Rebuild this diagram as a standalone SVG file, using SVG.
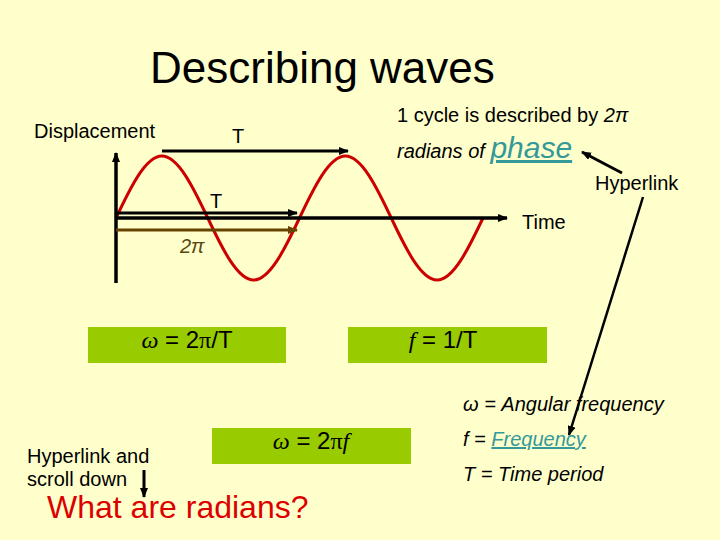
<svg xmlns="http://www.w3.org/2000/svg" width="720" height="540" viewBox="0 0 720 540">
<style>
text{font-family:"Liberation Sans",Arial,sans-serif;fill:#000}
.lbl{font-size:20px}
.it{font-style:italic}
.link{fill:#339999;text-decoration:underline}
.box{fill:#99CC00}
.eq{font-size:24px}
.ser{font-family:"Liberation Serif","Times New Roman",serif;font-style:italic}
.ax{stroke:#000;stroke-width:3.5;fill:none}
.ar{stroke:#000;stroke-width:3;fill:none}
</style>
<defs>
<marker id="ah" markerWidth="10" markerHeight="8" refX="9" refY="4" orient="auto" markerUnits="userSpaceOnUse"><path d="M0,0 L10,4 L0,8 Z" fill="#000"/></marker>
<marker id="ahb" markerWidth="10" markerHeight="8" refX="9" refY="4" orient="auto" markerUnits="userSpaceOnUse"><path d="M0,0 L10,4 L0,8 Z" fill="#664400"/></marker>
</defs>
<rect width="720" height="540" fill="#FFFFCC"/>
<g id="title"><text x="150" y="83" font-size="44">Describing waves</text></g>
<g id="wave"><path d="M116,218 C130.96,186.24 145.98,156 161.875,156 S192.79,186.24 207.75,218 S237.73,280 253.625,280 S284.54,249.76 299.5,218 S329.48,156 345.375,156 S376.29,186.24 391.25,218 S421.23,280 437.125,280 S468.04,249.76 483,218" fill="none" stroke="#CC0000" stroke-width="3"/></g>
<g id="connectors">
<line class="ax" x1="116" y1="283" x2="116" y2="153" marker-end="url(#ah)"/>
<line class="ax" x1="116" y1="218" x2="507" y2="218" marker-end="url(#ah)"/>
<line class="ar" x1="162" y1="151" x2="348" y2="151" marker-end="url(#ah)"/>
<line class="ar" x1="116" y1="213" x2="297" y2="213" marker-end="url(#ah)"/>
<line x1="116" y1="230" x2="297" y2="230" stroke="#664400" stroke-width="3" marker-end="url(#ahb)"/>
<line class="ar" x1="622" y1="173" x2="582" y2="152" marker-end="url(#ah)"/>
<line x1="643" y1="197" x2="569" y2="435" stroke="#000" stroke-width="2.5" marker-end="url(#ah)"/>
<line class="ar" x1="144" y1="470" x2="144" y2="497" marker-end="url(#ah)"/>
</g>
<g id="displacement"><text class="lbl" x="34" y="138">Displacement</text></g>
<g id="t-upper"><text class="lbl" x="232" y="143">T</text></g>
<g id="t-lower"><text class="lbl" x="210" y="208">T</text></g>
<g id="two-pi"><text class="lbl it" x="180" y="253" style="fill:#5a4410">2π</text></g>
<g id="time"><text class="lbl" x="522" y="229">Time</text></g>
<g id="cycle"><text class="lbl" x="397" y="122">1 cycle is described by <tspan class="it">2π</tspan></text>
<text class="lbl it" x="397" y="158">radians of <tspan class="link" font-size="30">phase</tspan></text></g>
<g id="hyperlink"><text class="lbl" x="595" y="190">Hyperlink</text></g>
<g id="box-omega"><rect class="box" x="88" y="327" width="198" height="36"/><text class="eq" x="187" y="348" text-anchor="middle"><tspan class="ser">ω</tspan> = 2<tspan font-family="Liberation Serif, serif">π</tspan>/T</text></g>
<g id="box-f"><rect class="box" x="348" y="327" width="199" height="36"/><text class="eq" x="443" y="348" text-anchor="middle"><tspan class="ser">f</tspan> = 1/T</text></g>
<g id="box-omega-f"><rect class="box" x="212" y="428" width="199" height="36"/><text class="eq" x="311" y="449" text-anchor="middle"><tspan class="ser">ω</tspan> = 2<tspan font-family="Liberation Serif, serif">π</tspan><tspan class="ser">f</tspan></text></g>
<g id="hyperlink-scroll"><text class="lbl" x="27" y="463">Hyperlink and</text><text class="lbl" x="27" y="486">scroll down</text></g>
<g id="radians"><text x="47" y="518" font-size="32" style="fill:#DD0000">What are radians?</text></g>
<g id="legend">
<text class="lbl it" x="463" y="411">ω = Angular frequency</text>
<text class="lbl it" x="463" y="446">f = <tspan class="link">Frequency</tspan></text>
<text class="lbl it" x="463" y="481">T = Time period</text>
</g>
</svg>
